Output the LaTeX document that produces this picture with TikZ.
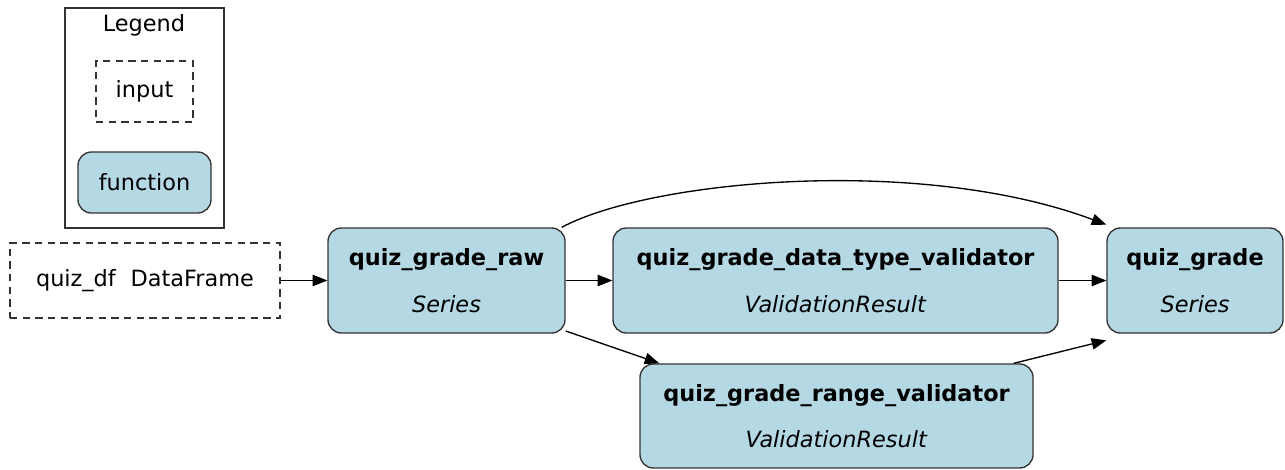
\documentclass[tikz,border=0pt]{standalone}
\usepackage{fontspec}
\setmainfont{DejaVu Sans}
\usetikzlibrary{arrows.meta}
\definecolor{fnfill}{HTML}{B4D8E4}
\definecolor{edgegray}{HTML}{333333}
\tikzset{
  base/.style={font=\fontsize{16.8}{20}\selectfont, inner sep=0pt, align=center, line width=1pt},
  fnbox/.style={base, draw=edgegray, fill=fnfill, rounded corners=10pt},
  inbox/.style={base, draw=edgegray, dash pattern=on 5.5pt off 4pt},
  conn/.style={line width=1pt, -{Triangle[length=11pt,width=8.5pt]}},
}
\begin{document}
\begin{tikzpicture}[x=0.75pt,y=-0.75pt]
\useasboundingbox (0,0) rectangle (1285,470);
% legend
\node[base, draw=edgegray, minimum width=159*0.75pt, minimum height=220*0.75pt] (legend) at (144.5,118) {};
\node[base] (legendtitle) at (144,25) {Legend};
\node[inbox, minimum width=97*0.75pt, minimum height=61*0.75pt] (lin) at (144.5,91.5) {input};
\node[fnbox, minimum width=133*0.75pt, minimum height=61*0.75pt] (lfn) at (144.5,182.5) {function};
% main nodes
\node[inbox, minimum width=270*0.75pt, minimum height=75*0.75pt] (qdf) at (145,280.5) {quiz\_df\hspace{0.35em} DataFrame};
\node[fnbox, minimum width=237*0.75pt, minimum height=105*0.75pt] (raw) at (446.5,280.5)
  {\textbf{quiz\_grade\_raw}\\[15pt]\textit{Series}};
\node[fnbox, minimum width=445*0.75pt, minimum height=105*0.75pt] (dtv) at (835.5,280.5)
  {\textbf{quiz\_grade\_data\_type\_validator}\\[15pt]\textit{ValidationResult}};
\node[fnbox, minimum width=176*0.75pt, minimum height=105*0.75pt] (qg) at (1195,280.5)
  {\textbf{quiz\_grade}\\[15pt]\textit{Series}};
\node[fnbox, minimum width=393*0.75pt, minimum height=104*0.75pt] (rng) at (836.5,416)
  {\textbf{quiz\_grade\_range\_validator}\\[15pt]\textit{ValidationResult}};
% connectors
\draw[conn] ([xshift=-3]raw.north east) .. controls (650,180) and (920,155) .. ([xshift=0,yshift=2]qg.north west);
\draw[conn] (qdf.east) -- (raw.west);
\draw[conn] (raw.east) -- (dtv.west);
\draw[conn] (dtv.east) -- (qg.west);
\draw[conn] ([yshift=2]raw.south east) -- ([xshift=15]rng.north west);
\draw[conn] ([xshift=-15]rng.north east) -- ([yshift=-5]qg.south west);
\end{tikzpicture}
\end{document}
